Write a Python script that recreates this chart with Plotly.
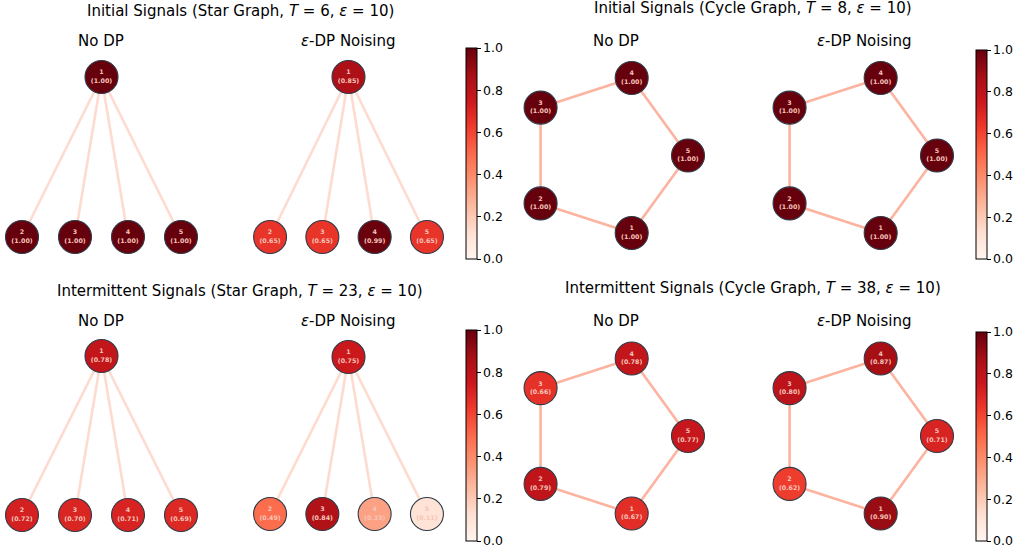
import math
import plotly.graph_objects as go

W, H = 1035, 557

# ---------------- data ----------------
node_ids = [1, 2, 3, 4, 5]
star_init_nodp = [1.00, 1.00, 1.00, 1.00, 1.00]
star_init_dp = [0.85, 0.65, 0.65, 0.99, 0.65]
cycle_init_nodp = [1.00, 1.00, 1.00, 1.00, 1.00]
cycle_init_dp = [1.00, 1.00, 1.00, 1.00, 1.00]
star_int_nodp = [0.78, 0.72, 0.70, 0.71, 0.69]
star_int_dp = [0.75, 0.49, 0.84, 0.33, 0.11]
cycle_int_nodp = [0.67, 0.79, 0.66, 0.78, 0.77]
cycle_int_dp = [0.90, 0.62, 0.80, 0.87, 0.71]

star_edges = [(1, 2), (1, 3), (1, 4), (1, 5)]
cycle_edges = [(1, 2), (2, 3), (3, 4), (4, 5), (5, 1)]

sup_titles = [
    "Initial Signals (Star Graph, <i>T</i> = 6, <i>ε</i> = 10)",
    "Initial Signals (Cycle Graph, <i>T</i> = 8, <i>ε</i> = 10)",
    "Intermittent Signals (Star Graph, <i>T</i> = 23, <i>ε</i> = 10)",
    "Intermittent Signals (Cycle Graph, <i>T</i> = 38, <i>ε</i> = 10)",
]
sub_titles = ["No DP", "<i>ε</i>-DP Noising"]
cbar_ticks = [0.0, 0.2, 0.4, 0.6, 0.8, 1.0]

REDS = [[0, '#fff5f0'], [0.125, '#fee0d2'], [0.25, '#fcbba1'], [0.375, '#fc9272'],
        [0.5, '#fb6a4a'], [0.625, '#ef3b2c'], [0.75, '#cb181d'], [0.875, '#a50f15'],
        [1, '#67000d']]

FONT = "DejaVu Sans"


def px_x(px):
    return px / W


def px_y(py):
    return 1 - py / H


# ---------------- layouts ----------------
def star_pos():
    pos = {1: (0.0, 1.0)}
    for k, n in enumerate([2, 3, 4, 5]):
        pos[n] = (k - 1.5, 0.0)
    return pos


def cycle_pos():
    pos = {}
    for n in node_ids:
        a = math.radians(-72 * n)
        pos[n] = (math.cos(a), math.sin(a))
    return pos


fig = go.Figure()
layout = {}
annotations = []

# panel spec: (values, kind, box px (x0,x1,y0,y1), origin px (ox,oy), ppu x, ppu y, coloraxis idx)
panels = [
    (star_init_nodp, "star", (2, 205, 50, 262), (101.5, 237), 53, 160, 1),
    (star_init_dp, "star", (240, 455, 50, 262), (348.5, 237), 52.3, 160, 1),
    (cycle_init_nodp, "cycle", (515, 705, 55, 260), (606.5, 155.5), 81.5, 81.5, 2),
    (cycle_init_dp, "cycle", (765, 955, 55, 260), (855.5, 155.5), 81.5, 81.5, 2),
    (star_int_nodp, "star", (2, 205, 330, 545), (101.5, 515), 53, 159, 3),
    (star_int_dp, "star", (240, 455, 330, 545), (348.5, 514), 52.3, 157, 3),
    (cycle_int_nodp, "cycle", (515, 705, 335, 540), (606.5, 436), 81.5, 81.5, 4),
    (cycle_int_dp, "cycle", (765, 955, 335, 540), (855.5, 436), 81.5, 81.5, 4),
]

for i, (vals, kind, box, org, ppx, ppy, cax) in enumerate(panels, start=1):
    x0, x1, y0, y1 = box
    ox, oy = org
    xa = "xaxis" if i == 1 else f"xaxis{i}"
    ya = "yaxis" if i == 1 else f"yaxis{i}"
    xref = "x" if i == 1 else f"x{i}"
    yref = "y" if i == 1 else f"y{i}"
    layout[xa] = dict(domain=[px_x(x0), px_x(x1)], range=[(x0 - ox) / ppx, (x1 - ox) / ppx],
                      visible=False, fixedrange=True, anchor=yref)
    layout[ya] = dict(domain=[px_y(y1), px_y(y0)], range=[(oy - y1) / ppy, (oy - y0) / ppy],
                      visible=False, fixedrange=True, anchor=xref)

    pos = star_pos() if kind == "star" else cycle_pos()
    edges = star_edges if kind == "star" else cycle_edges
    ecol = "#fddccf" if kind == "star" else "#fcb3a0"
    ex, ey = [], []
    for a, b in edges:
        ex += [pos[a][0], pos[b][0], None]
        ey += [pos[a][1], pos[b][1], None]
    fig.add_trace(go.Scatter(x=ex, y=ey, mode="lines", xaxis=xref, yaxis=yref,
                             line=dict(color=ecol, width=2.6), hoverinfo="skip",
                             showlegend=False, cliponaxis=False))
    nx = [pos[n][0] for n in node_ids]
    ny = [pos[n][1] for n in node_ids]
    txt = [f"<b>{n}<br>({v:.2f})</b>" for n, v in zip(node_ids, vals)]
    fig.add_trace(go.Scatter(
        x=nx, y=ny, mode="markers+text", xaxis=xref, yaxis=yref,
        text=txt, textposition="middle center", cliponaxis=False,
        textfont=dict(family=FONT, size=6.3, color="#f6c4b9"),
        marker=dict(size=33, color=vals, coloraxis="coloraxis" if cax == 1 else f"coloraxis{cax}",
                    line=dict(color="#2f3b48", width=1.1)),
        showlegend=False, hoverinfo="skip"))

# colorbars: (coloraxis idx, x px left, y px top, y px bottom)
cbars = [(1, 466, 48, 259), (2, 976, 50, 259), (3, 466, 330, 541), (4, 976, 332, 541)]
for idx, cx, cy0, cy1 in cbars:
    name = "coloraxis" if idx == 1 else f"coloraxis{idx}"
    layout[name] = dict(
        colorscale=REDS, cmin=0, cmax=1,
        colorbar=dict(x=px_x(cx), xanchor="left", xpad=0, ypad=0,
                      y=px_y(cy0), yanchor="top", lenmode="pixels", len=cy1 - cy0,
                      thickness=11, thicknessmode="pixels",
                      outlinewidth=1, outlinecolor="black",
                      tickvals=cbar_ticks, ticktext=[f"{t:.1f}" for t in cbar_ticks],
                      ticks="outside", ticklen=3.5, tickwidth=1, tickcolor="black",
                      tickfont=dict(family=FONT, size=12.5, color="black")))

# titles
sup_pos = [(240, 11), (753, 8), (240, 291), (753, 288)]
for t, (px, py) in zip(sup_titles, sup_pos):
    annotations.append(dict(text=t, x=px_x(px), y=px_y(py), xref="paper", yref="paper",
                            xanchor="center", yanchor="middle", showarrow=False,
                            font=dict(family=FONT, size=15, color="black")))
sub_pos = [[(101, 41), (348, 41)], [(616, 41), (864, 41)],
           [(101, 321), (348, 321)], [(616, 321), (864, 321)]]
for pair in sub_pos:
    for t, (px, py) in zip(sub_titles, pair):
        annotations.append(dict(text=t, x=px_x(px), y=px_y(py), xref="paper", yref="paper",
                                xanchor="center", yanchor="middle", showarrow=False,
                                font=dict(family=FONT, size=15, color="black")))

fig.update_layout(width=W, height=H, margin=dict(l=0, r=0, t=0, b=0),
                  paper_bgcolor="white", plot_bgcolor="white",
                  annotations=annotations, **layout)
fig.write_html("out.html", config={"displayModeBar": False, "staticPlot": True},
               post_script="document.body.style.margin='0';document.body.style.overflow='hidden';")
